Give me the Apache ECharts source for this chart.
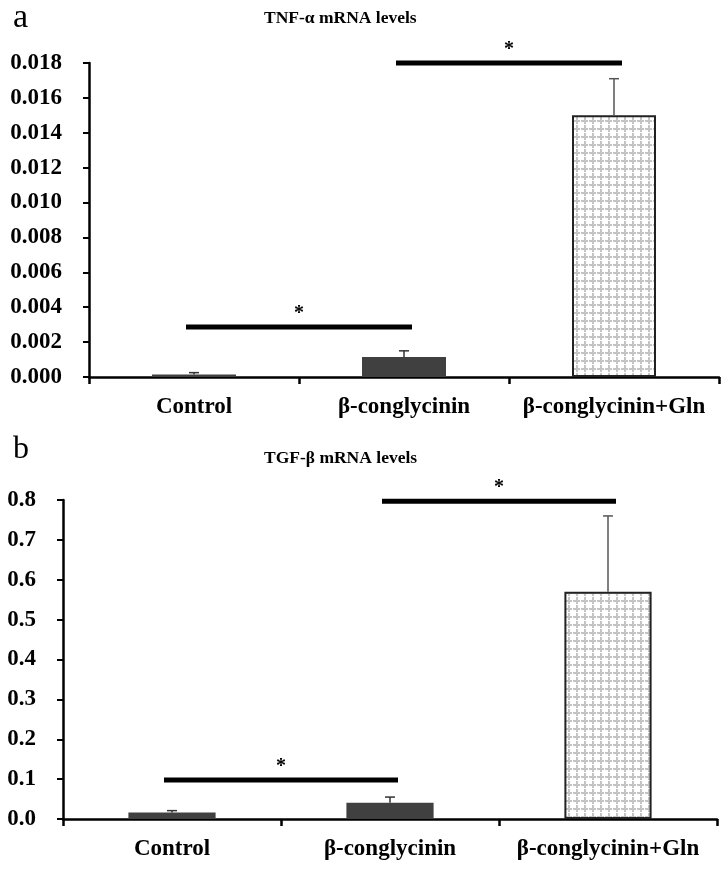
<!DOCTYPE html>
<html>
<head>
<meta charset="utf-8">
<script src="https://cdn.jsdelivr.net/npm/echarts@6/dist/echarts.min.js"></script>
<style>
html,body{margin:0;padding:0;background:#fff;}
#chart{width:727px;height:869px;}
</style>
</head>
<body>
<div id="chart"></div>
<script>
// ---- data ----
var categories = ['Control', 'β-conglycinin', 'β-conglycinin+Gln'];
var tnfMeans = [0.00015, 0.00115, 0.0150];
var tnfErrors = [0.0001, 0.00035, 0.0021];
var tgfMeans = [0.016, 0.041, 0.57];
var tgfErrors = [0.005, 0.014, 0.19];
// significance brackets: [fromCategory, toCategory, height]
var tnfSig = [[0, 1, 0.00287], [1, 2, 0.018]];
var tgfSig = [[0, 1, 0.098], [1, 2, 0.797]];
var tnfTicks = { min: 0, max: 0.018, interval: 0.002, decimals: 3 };
var tgfTicks = { min: 0, max: 0.8, interval: 0.1, decimals: 1 };
var titles = ['TNF-α mRNA levels', 'TGF-β mRNA levels'];
var panelLabels = ['a', 'b'];

// ---- styles ----
var SERIF = "'Liberation Serif','Times New Roman',serif";
var DARK = '#404040';

var pc = document.createElement('canvas');
pc.width = 8; pc.height = 8;
var pctx = pc.getContext('2d');
pctx.fillStyle = '#ffffff'; pctx.fillRect(0, 0, 8, 8);
pctx.fillStyle = '#c4c4c4';
pctx.fillRect(0, 0, 8, 2);
pctx.fillRect(0, 0, 2, 8);
pctx.fillStyle = '#ffffff';
pctx.fillRect(4, 0, 1, 2);
pctx.fillRect(0, 4, 2, 1);

function barData(means) {
  return means.map(function (v, i) {
    if (i === 2) {
      return { value: v, itemStyle: { color: { image: pc, repeat: 'repeat' }, borderColor: '#222', borderWidth: 2 } };
    }
    return { value: v, itemStyle: { color: DARK } };
  });
}
function errData(means, errs) {
  return means.map(function (v, i) { return [i, v, v + errs[i]]; });
}

function errRender(params, api) {
  var i = api.value(0);
  var top = api.coord([i, api.value(2)]);
  var base = api.coord([i, api.value(1)]);
  var col = i === 2 ? '#555' : '#333';
  return {
    type: 'group',
    children: [
      { type: 'line', shape: { x1: top[0], y1: base[1], x2: top[0], y2: top[1] }, style: { stroke: col, lineWidth: 1.5 } },
      { type: 'line', shape: { x1: top[0] - 5, y1: top[1], x2: top[0] + 5, y2: top[1] }, style: { stroke: col, lineWidth: 1.5 } }
    ]
  };
}
function sigRender(params, api) {
  var a = api.coord([api.value(0), api.value(2)]);
  var b = api.coord([api.value(1), api.value(2)]);
  var x1 = a[0] - 8, x2 = b[0] + 8;
  return {
    type: 'group',
    children: [
      { type: 'line', shape: { x1: x1, y1: a[1], x2: x2, y2: a[1] }, style: { stroke: '#000', lineWidth: 5 } },
      { type: 'text', style: { text: '*', x: (x1 + x2) / 2, y: a[1] - 3, align: 'center', verticalAlign: 'bottom', font: 'bold 20px ' + SERIF, fill: '#000' } }
    ]
  };
}

function yAxis(idx, t) {
  return {
    type: 'value', gridIndex: idx, min: t.min, max: t.max, interval: t.interval,
    axisLine: { show: true, lineStyle: { color: '#000', width: 2.5 } },
    axisTick: { show: true, length: 6, lineStyle: { color: '#000', width: 2 } },
    splitLine: { show: false },
    axisLabel: {
      margin: 27, color: '#000', fontFamily: SERIF, fontWeight: 'bold', fontSize: 23,
      formatter: function (v) { return v.toFixed(t.decimals); }
    }
  };
}
function xAxis(idx) {
  return {
    type: 'category', gridIndex: idx, data: categories,
    axisLine: { show: true, lineStyle: { color: '#000', width: 2.5 } },
    axisTick: { show: true, length: 7, lineStyle: { color: '#000', width: 2.5 } },
    axisLabel: { margin: 19, color: '#000', fontFamily: SERIF, fontWeight: 'bold', fontSize: 23, interval: 0 }
  };
}

var chart = echarts.init(document.getElementById('chart'), null, { renderer: 'canvas' });
chart.setOption({
  animation: false,
  backgroundColor: '#fff',
  title: [
    { text: titles[0], left: 259, top: 4, textStyle: { fontFamily: SERIF, fontWeight: 'bold', fontSize: 17.5, color: '#000' } },
    { text: titles[1], left: 259, top: 444, textStyle: { fontFamily: SERIF, fontWeight: 'bold', fontSize: 17.5, color: '#000' } },
    { text: panelLabels[0], left: 8, top: -4, textStyle: { fontFamily: SERIF, fontWeight: 'normal', fontSize: 34, color: '#000' } },
    { text: panelLabels[1], left: 8, top: 429, textStyle: { fontFamily: SERIF, fontWeight: 'normal', fontSize: 32, color: '#000' } }
  ],
  grid: [
    { left: 89, top: 63, width: 630, height: 314 },
    { left: 63, top: 500, width: 654, height: 319 }
  ],
  xAxis: [xAxis(0), xAxis(1)],
  yAxis: [yAxis(0, tnfTicks), yAxis(1, tgfTicks)],
  series: [
    { type: 'bar', xAxisIndex: 0, yAxisIndex: 0, barWidth: '40%', data: barData(tnfMeans) },
    { type: 'custom', xAxisIndex: 0, yAxisIndex: 0, renderItem: errRender, data: errData(tnfMeans, tnfErrors), z: 5 },
    { type: 'custom', xAxisIndex: 0, yAxisIndex: 0, renderItem: sigRender, data: tnfSig, clip: false, z: 6 },
    { type: 'bar', xAxisIndex: 1, yAxisIndex: 1, barWidth: '40%', data: barData(tgfMeans) },
    { type: 'custom', xAxisIndex: 1, yAxisIndex: 1, renderItem: errRender, data: errData(tgfMeans, tgfErrors), z: 5 },
    { type: 'custom', xAxisIndex: 1, yAxisIndex: 1, renderItem: sigRender, data: tgfSig, clip: false, z: 6 }
  ]
});
</script>
</body>
</html>
